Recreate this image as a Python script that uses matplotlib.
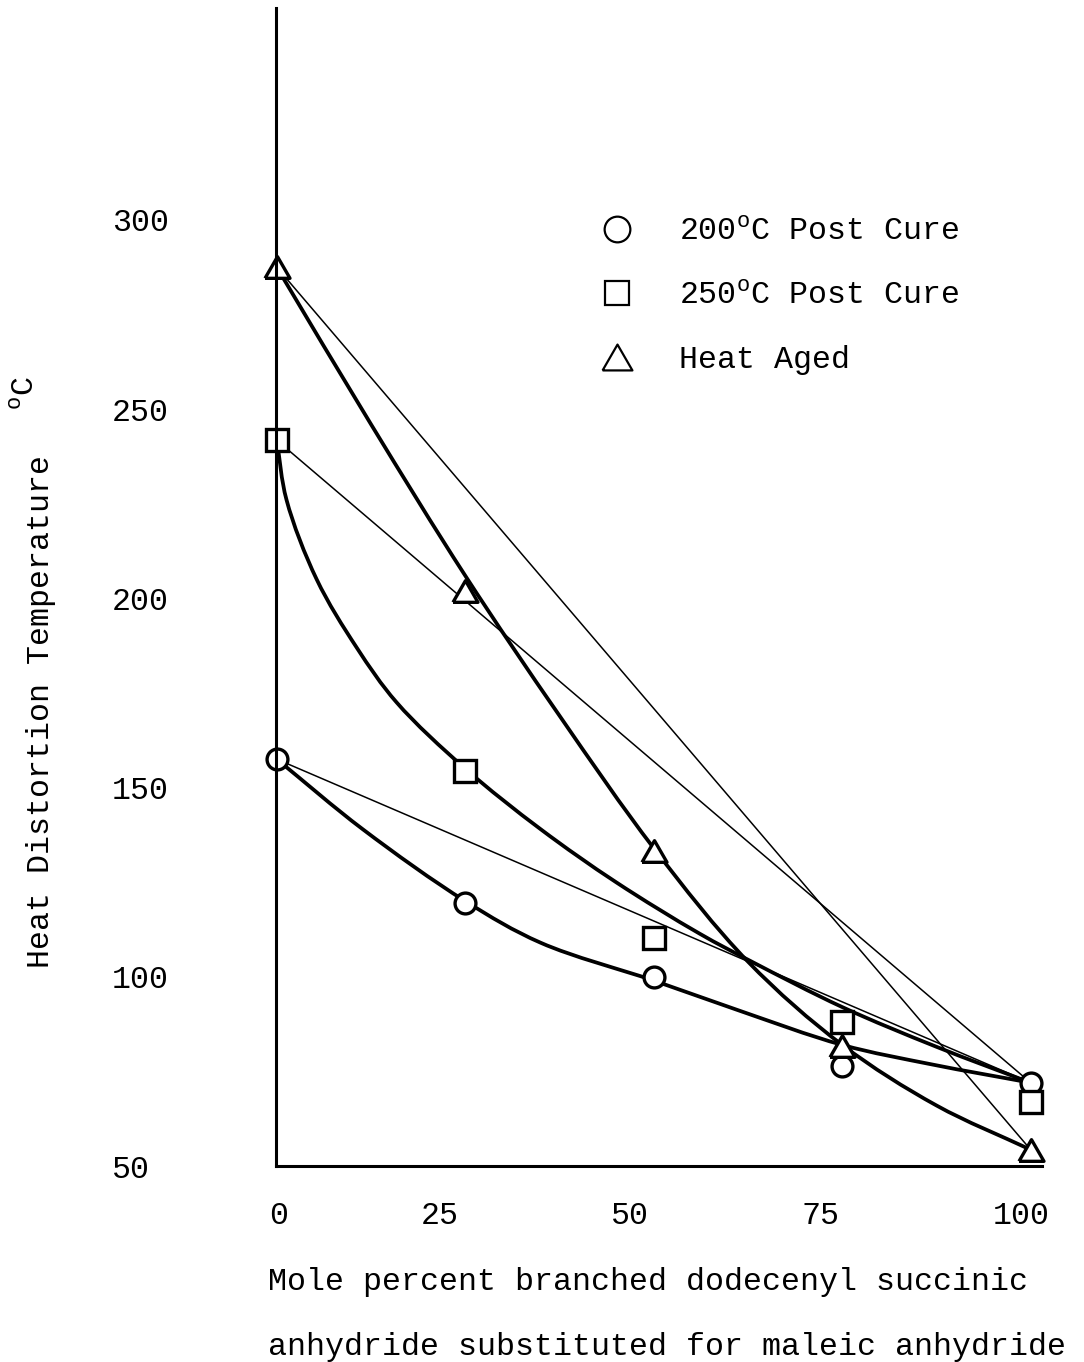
import numpy as np
import matplotlib
matplotlib.use("Agg")
import matplotlib.pyplot as plt
from matplotlib.path import Path
from matplotlib.patches import PathPatch
from matplotlib.lines import Line2D

plt.rcParams['font.family'] = ['Liberation Mono', 'DejaVu Sans Mono']
plt.rcParams['mathtext.fontset'] = 'custom'
plt.rcParams['mathtext.rm'] = 'Liberation Mono'

# ---------------- data ----------------
mole_pct = [0, 25, 50, 75, 100]
post_cure_200 = [157.5, 119.6, 100.0, 76.5, 72.0]
post_cure_250 = [241.8, 154.5, 110.3, 88.1, 67.0]
heat_aged = [287.5, 202.0, 133.3, 81.7, 54.3]

# hand-drawn smooth curves
curve_200_x = [0, 11.4, 25, 35, 50, 61, 75, 87, 100]
curve_200_y = [157.5, 139.0, 120.0, 109.0, 99.0, 91.3, 82.0, 76.8, 72.0]
curve_250_x = [0, 1.3, 5.3, 10.6, 15.9, 25, 35, 45, 56, 63, 75, 87.5, 100]
curve_250_y = [241.8, 226.0, 205.0, 187.0, 172.5, 155.0, 139.0, 125.0, 111.5, 104.0, 92.0, 81.5, 72.0]
curve_aged_x = [0, 12.5, 25, 37.5, 50, 62.5, 75, 87.5, 100]
curve_aged_y = [287.5, 246.0, 206.0, 169.0, 134.0, 104.0, 82.0, 66.0, 54.3]

# thin straight reference lines: (x0, x1), (y0, y1)
thin_200 = ([0, 100], [157.5, 72.0])
thin_250 = ([0, 100], [241.8, 72.0])
thin_aged = ([0, 100], [287.5, 54.3])

legend_labels = [r'200$^{\mathrm{o}}$C Post Cure', r'250$^{\mathrm{o}}$C Post Cure', 'Heat Aged']
ytick_values = [50, 100, 150, 200, 250, 300]
xtick_labels = ['0', '25', '50', '75', '100']
xtick_positions = [0.3, 21.6, 46.8, 72.1, 98.8]

# ---------------- figure ----------------
W, H = 1084, 1362
fig = plt.figure(figsize=(W / 100, H / 100), dpi=100)
ax = fig.add_axes([276 / W, 1 - 1166 / H, (1042 - 276) / W, (1166 - 8) / H])
ax.set_xlim(-0.1, 101.5)
ax.set_ylim(50, 356)

FS = 22.8


def smooth_path(xs, ys, alpha=0.5):
    """Centripetal Catmull-Rom curve through the read points, built in display space."""
    P = ax.transData.transform(np.column_stack([xs, ys]).astype(float))
    P = np.vstack([2 * P[0] - P[1], P, 2 * P[-1] - P[-2]])
    t = np.concatenate([[0], np.cumsum(np.linalg.norm(np.diff(P, axis=0), axis=1) ** alpha)])
    verts = [P[1]]
    codes = [Path.MOVETO]
    for i in range(1, len(P) - 2):
        p0, p1, p2, p3 = P[i - 1], P[i], P[i + 1], P[i + 2]
        t0, t1, t2, t3 = t[i - 1], t[i], t[i + 1], t[i + 2]
        m1 = (p1 - p0) / (t1 - t0) - (p2 - p0) / (t2 - t0) + (p2 - p1) / (t2 - t1)
        m2 = (p2 - p1) / (t2 - t1) - (p3 - p1) / (t3 - t1) + (p3 - p2) / (t3 - t2)
        dt = t2 - t1
        verts += [p1 + m1 * dt / 3, p2 - m2 * dt / 3, p2]
        codes += [Path.CURVE4] * 3
    verts = ax.transData.inverted().transform(np.array(verts))
    return Path(verts, codes)


# thin lines
for xs, ys in (thin_200, thin_250, thin_aged):
    ax.plot(xs, ys, color='black', lw=1.1, zorder=2, solid_capstyle='round')

# thick curves
for cx, cy in ((curve_200_x, curve_200_y), (curve_250_x, curve_250_y), (curve_aged_x, curve_aged_y)):
    ax.add_patch(PathPatch(smooth_path(cx, cy), fill=False, lw=2.7, edgecolor='black',
                           zorder=2.2, capstyle='round', joinstyle='round'))

tri = [(-1, -0.866), (1, -0.866), (0, 0.866), (-1, -0.866)]

ax.plot(mole_pct, post_cure_200, ls='none', marker='o', ms=15.0, mfc='white', mec='black',
        mew=2.4, zorder=3, clip_on=False)
ax.plot(mole_pct, post_cure_250, ls='none', marker='s', ms=15.6, mfc='white', mec='black',
        mew=2.4, zorder=3, clip_on=False)
ax.plot(mole_pct, heat_aged, ls='none', marker=tri, ms=18.0, mfc='white', mec='black',
        mew=2.4, zorder=3, clip_on=False)

# spines
for s in ('top', 'right'):
    ax.spines[s].set_visible(False)
for s in ('left', 'bottom'):
    ax.spines[s].set_linewidth(2.2)
    ax.spines[s].set_zorder(4)

ax.set_yticks(ytick_values)
ax.set_yticklabels([str(v) for v in ytick_values], fontsize=FS)
ax.set_xticks(xtick_positions)
ax.set_xticklabels(xtick_labels, fontsize=FS)
ax.tick_params(axis='both', length=0)
ax.tick_params(axis='y', pad=118)
ax.tick_params(axis='x', pad=25)
for lab in ax.get_yticklabels():
    lab.set_horizontalalignment('left')

# axis titles
fig.text(41 / W, 1 - 712 / H, 'Heat Distortion Temperature', rotation=90,
         ha='center', va='center', fontsize=FS)
fig.text(26 / W, 1 - 393 / H, r'$^{\mathrm{o}}$C', rotation=90,
         ha='center', va='center', fontsize=FS)
fig.text(268 / W, 1 - 1282 / H, 'Mole percent branched dodecenyl succinic',
         ha='left', va='center', fontsize=FS)
fig.text(268 / W, 1 - 1347 / H, 'anhydride substituted for maleic anhydride',
         ha='left', va='center', fontsize=FS)

# legend
handles = [
    Line2D([], [], ls='none', marker='o', ms=18.5, mfc='none', mec='black', mew=1.6),
    Line2D([], [], ls='none', marker='s', ms=17.5, mfc='none', mec='black', mew=1.6),
    Line2D([], [], ls='none', marker=tri, ms=21.5, mfc='none', mec='black', mew=1.6),
]
fig.legend(handles, legend_labels, loc='center left',
           bbox_to_anchor=(601.5 / W, 1 - 296 / H), bbox_transform=fig.transFigure,
           frameon=False, prop={'family': 'Liberation Mono', 'size': FS},
           handlelength=1.0, handletextpad=1.45, borderpad=0, borderaxespad=0,
           labelspacing=1.08, numpoints=1)

fig.savefig('out.png', dpi=100)
